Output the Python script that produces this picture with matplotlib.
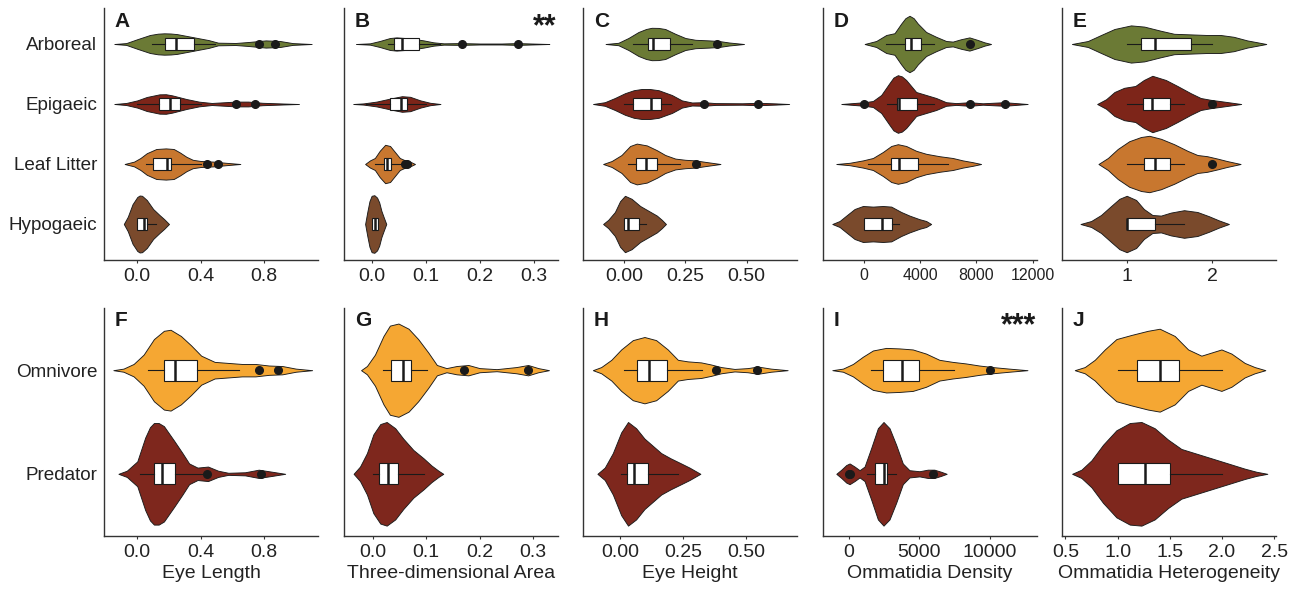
import matplotlib
matplotlib.use("Agg")
import matplotlib.pyplot as plt

plt.rcParams["font.family"] = ["Liberation Sans", "DejaVu Sans"]

HABITATS = ["Arboreal", "Epigaeic", "Leaf Litter", "Hypogaeic"]
DIETS = ["Omnivore", "Predator"]
HABITAT_COLORS = ["#6b7a35", "#7d2519", "#c8772f", "#7a4a2c"]
DIET_COLORS = ["#f5a733", "#7e271d"]

# violin outlines: value positions and half-widths (category units), one list per group
# box stats: [whisker low, q1, median, q3, whisker high]
A_X = [[-0.145, -0.07, 0.0, 0.08, 0.13, 0.17, 0.21, 0.25, 0.34, 0.45, 0.51, 0.62, 0.70, 0.81, 0.90, 0.98, 1.10],
       [-0.145, -0.07, 0.0, 0.06, 0.14, 0.18, 0.22, 0.31, 0.39, 0.47, 0.62, 0.70, 0.79, 0.90, 1.02],
       [-0.08, -0.02, 0.02, 0.06, 0.12, 0.18, 0.23, 0.27, 0.31, 0.35, 0.40, 0.48, 0.56, 0.65],
       [-0.085, -0.06, -0.03, 0.0, 0.015, 0.03, 0.06, 0.10, 0.14, 0.17, 0.20]]
A_W = [[0, 0.015, 0.08, 0.15, 0.172, 0.178, 0.175, 0.165, 0.12, 0.065, 0.022, 0.017, 0.033, 0.06, 0.05, 0.015, 0],
       [0, 0.017, 0.06, 0.117, 0.161, 0.163, 0.144, 0.083, 0.039, 0.017, 0.04, 0.04, 0.02, 0.01, 0],
       [0, 0.04, 0.1, 0.18, 0.25, 0.26, 0.25, 0.19, 0.12, 0.07, 0.05, 0.04, 0.02, 0],
       [0, 0.12, 0.33, 0.45, 0.475, 0.47, 0.40, 0.25, 0.15, 0.08, 0]]
A_BOX = [[0.09, 0.175, 0.245, 0.355, 0.49], [0.0, 0.135, 0.205, 0.27, 0.40],
         [0.055, 0.10, 0.185, 0.215, 0.40], [0.0, 0.0, 0.04, 0.062, 0.115]]
A_OUT = [[0.77, 0.87], [0.625, 0.745], [0.44, 0.51], []]

B_X = [[-0.029, -0.003, 0.015, 0.034, 0.046, 0.071, 0.096, 0.114, 0.133, 0.165, 0.20, 0.24, 0.27, 0.30, 0.328],
       [-0.034, -0.015, 0.009, 0.034, 0.056, 0.071, 0.09, 0.108, 0.127],
       [-0.012, -0.003, 0.006, 0.015, 0.025, 0.034, 0.043, 0.052, 0.062, 0.071, 0.08],
       [-0.012, -0.008, -0.004, 0.0, 0.005, 0.01, 0.014, 0.018, 0.022, 0.027]]
B_W = [[0, 0.011, 0.05, 0.1, 0.11, 0.094, 0.06, 0.028, 0.011, 0.015, 0.008, 0.008, 0.015, 0.007, 0],
       [0, 0.01, 0.04, 0.09, 0.13, 0.12, 0.06, 0.02, 0],
       [0, 0.06, 0.1, 0.22, 0.32, 0.3, 0.2, 0.1, 0.06, 0.04, 0],
       [0, 0.2, 0.38, 0.47, 0.48, 0.44, 0.36, 0.22, 0.12, 0]]
B_BOX = [[0.031, 0.042, 0.056, 0.088, 0.127], [-0.01, 0.034, 0.054, 0.066, 0.10],
         [0.006, 0.023, 0.029, 0.036, 0.056], [0.0, 0.0, 0.006, 0.012, 0.012]]
B_OUT = [[0.167, 0.27], [], [0.062, 0.065], []]

C_X = [[-0.075, -0.023, 0.018, 0.059, 0.09, 0.113, 0.14, 0.168, 0.209, 0.25, 0.291, 0.346, 0.387, 0.428, 0.489],
       [-0.126, -0.078, -0.037, 0.004, 0.04, 0.072, 0.105, 0.141, 0.195, 0.236, 0.277, 0.325, 0.373, 0.482, 0.55, 0.619, 0.673],
       [-0.085, -0.05, -0.01, 0.025, 0.052, 0.093, 0.134, 0.168, 0.209, 0.25, 0.291, 0.332, 0.393],
       [-0.085, -0.064, -0.037, -0.016, 0.004, 0.031, 0.066, 0.1, 0.134, 0.154, 0.171]]
C_W = [[0, 0.02, 0.1, 0.2, 0.25, 0.27, 0.268, 0.25, 0.17, 0.1, 0.07, 0.06, 0.05, 0.025, 0],
       [0, 0.03, 0.1, 0.18, 0.23, 0.25, 0.25, 0.23, 0.15, 0.06, 0.025, 0.03, 0.015, 0.012, 0.02, 0.01, 0],
       [0, 0.05, 0.15, 0.3, 0.34, 0.31, 0.23, 0.15, 0.09, 0.07, 0.06, 0.035, 0],
       [0, 0.07, 0.2, 0.38, 0.47, 0.42, 0.3, 0.22, 0.14, 0.07, 0]]
C_BOX = [[0.038, 0.097, 0.12, 0.186, 0.277], [0.0, 0.038, 0.111, 0.152, 0.19],
         [0.018, 0.048, 0.09, 0.135, 0.23], [0.0, 0.0, 0.018, 0.063, 0.089]]
C_OUT = [[0.38], [0.328, 0.548], [0.294], []]

D_X = [[50, 876, 1587, 2178, 2652, 2950, 3244, 3540, 3836, 4428, 5139, 5849, 6323, 6915, 7507, 8099, 8572, 9046],
       [-1610, -781, 47, 640, 1231, 1823, 2100, 2415, 2700, 3007, 3718, 4428, 5139, 5849, 6560, 7507, 8454, 9993, 10822, 11650],
       [-1965, -1018, -71, 640, 1350, 1942, 2415, 3007, 3718, 4428, 5375, 6323, 7033, 7744, 8335],
       [-2250, -1729, -1255, -663, -71, 640, 1350, 1942, 2652, 3244, 3955, 4428, 4783]]
D_W = [[0, 0.05, 0.15, 0.18, 0.34, 0.43, 0.47, 0.43, 0.34, 0.2, 0.12, 0.05, 0.04, 0.08, 0.11, 0.067, 0.028, 0],
       [0, 0.015, 0.03, 0.05, 0.15, 0.35, 0.44, 0.48, 0.46, 0.4, 0.2, 0.15, 0.1, 0.03, 0.015, 0.03, 0.012, 0.03, 0.015, 0],
       [0, 0.02, 0.06, 0.1, 0.2, 0.3, 0.33, 0.3, 0.22, 0.17, 0.13, 0.1, 0.06, 0.03, 0],
       [0, 0.05, 0.14, 0.25, 0.3, 0.29, 0.3, 0.29, 0.2, 0.14, 0.08, 0.05, 0]]
D_BOX = [[1590, 2940, 3360, 4030, 5020], [1630, 2370, 2530, 3770, 5020],
         [280, 1940, 2530, 3840, 5970], [0, 0, 1300, 2010, 2490]]
D_OUT = [[7530], [0, 7550, 10060], [], []]

E_X = [[0.36, 0.547, 0.70, 0.857, 1.05, 1.205, 1.4, 1.554, 1.748, 1.94, 2.097, 2.25, 2.407, 2.52, 2.63],
       [0.655, 0.76, 0.857, 0.97, 1.1, 1.2, 1.3, 1.457, 1.593, 1.748, 1.864, 1.98, 2.136, 2.337],
       [0.67, 0.78, 0.895, 1.03, 1.167, 1.264, 1.4, 1.554, 1.71, 1.826, 1.94, 2.06, 2.17, 2.33],
       [0.46, 0.585, 0.7, 0.818, 0.915, 1.0, 1.11, 1.2, 1.3, 1.4, 1.515, 1.67, 1.826, 1.96, 2.077, 2.194]]
E_W = [[0, 0.05, 0.15, 0.25, 0.31, 0.29, 0.22, 0.17, 0.16, 0.15, 0.15, 0.12, 0.06, 0.03, 0],
       [0, 0.08, 0.2, 0.27, 0.3, 0.4, 0.47, 0.4, 0.3, 0.18, 0.1, 0.07, 0.04, 0],
       [0, 0.1, 0.25, 0.38, 0.45, 0.47, 0.42, 0.33, 0.22, 0.15, 0.13, 0.09, 0.05, 0],
       [0, 0.05, 0.15, 0.3, 0.42, 0.47, 0.4, 0.25, 0.15, 0.14, 0.19, 0.23, 0.2, 0.13, 0.06, 0]]
E_BOX = [[1.0, 1.167, 1.333, 1.75, 2.0], [1.0, 1.194, 1.29, 1.5, 1.667],
         [1.0, 1.2, 1.333, 1.5, 1.667], [1.0, 1.0, 1.0, 1.333, 1.667]]
E_OUT = [[], [2.0], [2.0], []]

F_X = [[-0.151, -0.087, -0.023, 0.04, 0.105, 0.168, 0.21, 0.275, 0.339, 0.403, 0.488, 0.574, 0.66, 0.745, 0.83, 0.915, 1.0, 1.103],
       [-0.119, -0.066, 0.0, 0.05, 0.08, 0.105, 0.135, 0.168, 0.232, 0.285, 0.327, 0.38, 0.446, 0.51, 0.574, 0.68, 0.766, 0.851, 0.933]]
F_W = [[0, 0.015, 0.06, 0.15, 0.3, 0.38, 0.39, 0.33, 0.24, 0.14, 0.08, 0.07, 0.06, 0.06, 0.045, 0.04, 0.015, 0],
       [0, 0.03, 0.12, 0.35, 0.45, 0.49, 0.49, 0.46, 0.32, 0.2, 0.1, 0.06, 0.07, 0.03, 0.01, 0.015, 0.04, 0.02, 0]]
F_BOX = [[0.068, 0.168, 0.237, 0.377, 0.642], [0.02, 0.105, 0.153, 0.237, 0.41]]
F_OUT = [[0.766, 0.89], [0.44, 0.78]]

G_X = [[-0.022, -0.011, 0.004, 0.02, 0.032, 0.048, 0.067, 0.085, 0.104, 0.12, 0.138, 0.157, 0.179, 0.2, 0.232, 0.269, 0.291, 0.31, 0.33],
       [-0.036, -0.024, -0.011, 0.001, 0.014, 0.026, 0.042, 0.057, 0.076, 0.095, 0.11, 0.123, 0.132]]
G_W = [[0, 0.04, 0.15, 0.33, 0.43, 0.45, 0.4, 0.3, 0.17, 0.05, 0.02, 0.04, 0.05, 0.02, 0.01, 0.03, 0.05, 0.02, 0],
       [0, 0.07, 0.2, 0.38, 0.48, 0.5, 0.44, 0.34, 0.23, 0.15, 0.08, 0.03, 0]]
G_BOX = [[0.019, 0.034, 0.057, 0.072, 0.101], [0.0, 0.012, 0.029, 0.048, 0.095]]
G_OUT = [[0.17, 0.29], []]

H_X = [[-0.107, -0.074, -0.034, 0.005, 0.051, 0.097, 0.143, 0.189, 0.229, 0.268, 0.321, 0.36, 0.4, 0.453, 0.505, 0.545, 0.597, 0.663],
       [-0.089, -0.06, -0.028, 0.005, 0.032, 0.064, 0.097, 0.13, 0.163, 0.2, 0.242, 0.275, 0.318]]
H_W = [[0, 0.03, 0.1, 0.2, 0.29, 0.32, 0.29, 0.2, 0.1, 0.085, 0.075, 0.055, 0.03, 0.012, 0.02, 0.035, 0.015, 0],
       [0, 0.06, 0.2, 0.4, 0.5, 0.44, 0.34, 0.27, 0.2, 0.15, 0.1, 0.06, 0]]
H_BOX = [[0.016, 0.068, 0.113, 0.186, 0.324], [0.003, 0.029, 0.055, 0.111, 0.229]]
H_OUT = [[0.379, 0.543], []]

I_X = [[-1181, -425, 283, 992, 1700, 2645, 3590, 4535, 5480, 6425, 7369, 8314, 9259, 10204, 11385, 12684],
       [-898, -543, -189, 47, 401, 756, 1110, 1583, 2055, 2456, 2882, 3354, 3826, 4298, 5007, 5598, 6070, 6543, 6944]]
I_W = [[0, 0.015, 0.06, 0.13, 0.19, 0.215, 0.21, 0.2, 0.16, 0.1, 0.08, 0.065, 0.045, 0.03, 0.015, 0],
       [0, 0.04, 0.085, 0.1, 0.07, 0.035, 0.07, 0.25, 0.44, 0.5, 0.44, 0.28, 0.1, 0.035, 0.025, 0.04, 0.04, 0.02, 0]]
I_BOX = [[1535, 2410, 3780, 5010, 7490], [1275, 1866, 2456, 2716, 3354]]
I_OUT = [[10040], [0, 100, 6000]]

J_X = [[0.589, 0.685, 0.781, 0.877, 0.988, 1.132, 1.29, 1.403, 1.547, 1.675, 1.802, 1.898, 1.994, 2.09, 2.217, 2.313, 2.415],
       [0.564, 0.653, 0.749, 0.86, 0.988, 1.116, 1.228, 1.355, 1.483, 1.61, 1.738, 1.898, 2.058, 2.217, 2.329, 2.434]]
J_W = [[0, 0.03, 0.1, 0.2, 0.3, 0.34, 0.38, 0.4, 0.33, 0.2, 0.14, 0.17, 0.2, 0.16, 0.07, 0.03, 0],
       [0, 0.04, 0.13, 0.28, 0.42, 0.49, 0.5, 0.44, 0.33, 0.24, 0.2, 0.15, 0.1, 0.05, 0.02, 0]]
J_BOX = [[1.0, 1.186, 1.403, 1.585, 2.0], [1.0, 1.0, 1.26, 1.5, 2.0]]
J_OUT = [[], []]

X_LABELS = ["Eye Length", "Three-dimensional Area", "Eye Height", "Ommatidia Density", "Ommatidia Heterogeneity"]

TOP_XLIM = [(-0.21, 1.14), (-0.051, 0.344), (-0.167, 0.705), (-2912, 12316), (0.244, 2.744)]
BOT_XLIM = [(-0.21, 1.14), (-0.054, 0.347), (-0.146, 0.70), (-1844, 13362), (0.467, 2.517)]
TOP_TICKS = [([0, 0.4, 0.8], ["0.0", "0.4", "0.8"]),
             ([0, 0.1, 0.2, 0.3], ["0.0", "0.1", "0.2", "0.3"]),
             ([0, 0.25, 0.5], ["0.00", "0.25", "0.50"]),
             ([0, 4000, 8000, 12000], ["0", "4000", "8000", "12000"]),
             ([1, 2], ["1", "2"])]
BOT_TICKS = [([0, 0.4, 0.8], ["0.0", "0.4", "0.8"]),
             ([0, 0.1, 0.2, 0.3], ["0.0", "0.1", "0.2", "0.3"]),
             ([0, 0.25, 0.5], ["0.00", "0.25", "0.50"]),
             ([0, 5000, 10000], ["0", "5000", "10000"]),
             ([0.5, 1.0, 1.5, 2.0, 2.5], ["0.5", "1.0", "1.5", "2.0", "2.5"])]


def draw_panel(ax, xs, ws, boxes, outs, colors, ypos):
    for x, w, c, y in zip(xs, ws, colors, ypos):
        lo = [y - v for v in w]
        hi = [y + v for v in w]
        ax.fill_between(x, lo, hi, facecolor=c, edgecolor="#1a1a1a", lw=0.65,
                        joinstyle="round", zorder=1)
    stats = [dict(whislo=b[0], q1=b[1], med=b[2], q3=b[3], whishi=b[4], fliers=o)
             for b, o in zip(boxes, outs)]
    ax.bxp(stats, positions=ypos, widths=0.2, orientation="horizontal",
           showcaps=False, patch_artist=True, manage_ticks=False,
           boxprops=dict(facecolor="white", edgecolor="#1a1a1a", lw=0.8),
           whiskerprops=dict(color="#1a1a1a", lw=0.8),
           medianprops=dict(color="#1a1a1a", lw=1.8),
           flierprops=dict(marker="o", markerfacecolor="#1a1a1a", markeredgecolor="#1a1a1a",
                           markersize=5.5, linestyle="none"))


def style_axes(ax, xlim, ylim, ticks, tick_size=14):
    ax.set_xlim(*xlim)
    ax.set_ylim(*ylim)
    ax.set_xticks(ticks[0])
    ax.set_xticklabels(ticks[1])
    for s in ["top", "right"]:
        ax.spines[s].set_visible(False)
    for s in ["left", "bottom"]:
        ax.spines[s].set_color("#333333")
        ax.spines[s].set_linewidth(1.0)
    ax.tick_params(axis="x", length=2.5, width=0.8, color="#333333", labelsize=tick_size,
                   labelcolor="#222222", pad=3.5)
    ax.tick_params(axis="y", length=0, labelsize=13.6, labelcolor="#222222", pad=4.8)


fig = plt.figure(figsize=(13, 5.91), dpi=100)
lefts = [104, 344, 583, 823, 1062]
panel_w = 214 / 1300

top_data = [(A_X, A_W, A_BOX, A_OUT), (B_X, B_W, B_BOX, B_OUT), (C_X, C_W, C_BOX, C_OUT),
            (D_X, D_W, D_BOX, D_OUT), (E_X, E_W, E_BOX, E_OUT)]
bot_data = [(F_X, F_W, F_BOX, F_OUT), (G_X, G_W, G_BOX, G_OUT), (H_X, H_W, H_BOX, H_OUT),
            (I_X, I_W, I_BOX, I_OUT), (J_X, J_W, J_BOX, J_OUT)]
top_letters = ["A", "B", "C", "D", "E"]
bot_letters = ["F", "G", "H", "I", "J"]

for i in range(5):
    ax = fig.add_axes([lefts[i] / 1300, 1 - 260 / 591, panel_w, 252 / 591])
    xs, ws, boxes, outs = top_data[i]
    draw_panel(ax, xs, ws, boxes, outs, HABITAT_COLORS, [4, 3, 2, 1])
    style_axes(ax, TOP_XLIM[i], (0.4, 4.6), TOP_TICKS[i], tick_size=11.5 if i == 3 else 14)
    ax.set_yticks([4, 3, 2, 1])
    ax.set_yticklabels(HABITATS if i == 0 else [])
    ax.text(0.05, 0.985, top_letters[i], transform=ax.transAxes, fontsize=15,
            fontweight="bold", va="top", ha="left", color="#1a1a1a")
    if i == 1:
        ax.text(0.995, 0.985, "**", transform=ax.transAxes, fontsize=22,
                fontweight="bold", va="top", ha="right", color="#1a1a1a")

for i in range(5):
    ax = fig.add_axes([lefts[i] / 1300, 1 - 536 / 591, panel_w, 228 / 591])
    xs, ws, boxes, outs = bot_data[i]
    draw_panel(ax, xs, ws, boxes, outs, DIET_COLORS, [2, 1])
    style_axes(ax, BOT_XLIM[i], (0.4, 2.6), BOT_TICKS[i])
    ax.set_yticks([2, 1])
    ax.set_yticklabels(DIETS if i == 0 else [])
    ax.set_xlabel(X_LABELS[i], fontsize=14, color="#222222", labelpad=3)
    ax.text(0.05, 0.985, bot_letters[i], transform=ax.transAxes, fontsize=15,
            fontweight="bold", va="top", ha="left", color="#1a1a1a")
    if i == 3:
        ax.text(0.995, 0.985, "***", transform=ax.transAxes, fontsize=22,
                fontweight="bold", va="top", ha="right", color="#1a1a1a")

fig.savefig("out.png", dpi=100)
